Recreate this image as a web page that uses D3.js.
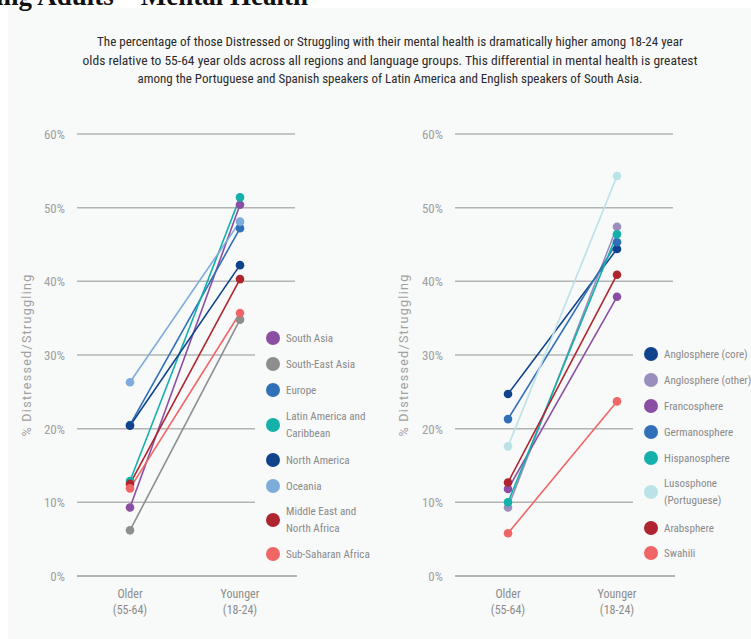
<!DOCTYPE html>
<html>
<head>
<meta charset="utf-8">
<script src="https://cdn.jsdelivr.net/npm/d3@7"></script>
<style>
  html, body { margin: 0; padding: 0; background: #ffffff; }
  svg { display: block; }
  .cond { font-family: "Roboto Condensed", "Liberation Sans Narrow", "DejaVu Sans Condensed", Roboto, sans-serif; }
</style>
</head>
<body>
<svg id="chart" width="751" height="639"></svg>
<script>
// Age groups on the x axis
const ageGroups = ["Older", "Younger"];
const ageLabels = [["Older", "(55-64)"], ["Younger", "(18-24)"]];
const yTicks = [0, 10, 20, 30, 40, 50, 60];

// Regions: share Distressed/Struggling (%) for older and younger adults
const regionNames = ["South Asia", "South-East Asia", "Europe", "Latin America and Caribbean",
  "North America", "Oceania", "Middle East and North Africa", "Sub-Saharan Africa"];
const regionLegend = [["South Asia"], ["South-East Asia"], ["Europe"], ["Latin America and", "Caribbean"],
  ["North America"], ["Oceania"], ["Middle East and", "North Africa"], ["Sub-Saharan Africa"]];
const regionOlder = [9.3, 6.2, 20.5, 12.9, 20.4, 26.3, 12.5, 11.9];
const regionYounger = [50.4, 34.8, 47.2, 51.4, 42.2, 48.1, 40.3, 35.7];
const regionColors = ["#8a4fa3", "#8e8e90", "#3070b8", "#14b0aa", "#10438c", "#7eacdb", "#ae252f", "#f06565"];

// Language groups
const languageNames = ["Anglosphere (core)", "Anglosphere (other)", "Francosphere", "Germanosphere",
  "Hispanosphere", "Lusosphone (Portuguese)", "Arabsphere", "Swahili"];
const languageLegend = [["Anglosphere (core)"], ["Anglosphere (other)"], ["Francosphere"], ["Germanosphere"],
  ["Hispanosphere"], ["Lusosphone", "(Portuguese)"], ["Arabsphere"], ["Swahili"]];
const languageOlder = [24.7, 9.3, 11.8, 21.3, 10.0, 17.6, 12.7, 5.8];
const languageYounger = [44.4, 47.4, 37.9, 45.3, 46.4, 54.3, 40.9, 23.7];
const languageColors = ["#10438c", "#9a8fbc", "#8a4fa3", "#3070b8", "#14b0aa", "#bae2e7", "#ae252f", "#f06565"];

const subtitleLines = [
  "The percentage of those Distressed or Struggling with their mental health is dramatically higher among 18-24 year",
  "olds relative to 55-64 year olds across all regions and language groups. This differential in mental health is greatest",
  "among the Portuguese and Spanish speakers of Latin America and English speakers of South Asia."
];

const svg = d3.select("#chart");

// light panel behind everything below the cropped heading
svg.append("rect").attr("x", 8).attr("y", 8).attr("width", 743).attr("height", 631).attr("fill", "#f8f9f9");

svg.append("text")
  .attr("x", 308).attr("y", 5)
  .attr("text-anchor", "end")
  .attr("font-family", "'Liberation Serif', 'Times New Roman', serif")
  .attr("font-weight", "bold")
  .attr("font-size", 27)
  .attr("fill", "#111")
  .text("Young Adults \u2013 Mental Health");

const subWidths = [586, 615, 505];
subtitleLines.forEach((t, i) => {
  svg.append("text")
    .attr("class", "cond")
    .attr("x", 390).attr("y", 46 + i * 18.5)
    .attr("text-anchor", "middle")
    .attr("font-size", 13)
    .attr("fill", "#2b2b2b")
    .attr("textLength", subWidths[i])
    .attr("lengthAdjust", "spacingAndGlyphs")
    .text(t);
});

const y = d3.scaleLinear().domain([0, 60]).range([576, 134]);

function panel(cfg) {
  const g = svg.append("g");
  const x = d3.scalePoint().domain(ageGroups).range([cfg.xOld, cfg.xYoung]);

  // gridlines; the middle ones stop short of the legend
  yTicks.forEach(t => {
    let x2 = cfg.gridRight;
    if (t === 0) x2 = cfg.gridRight + 2;
    else if (t >= 10 && t <= 30) x2 = cfg.gridShort;
    g.append("line")
      .attr("x1", cfg.gridLeft).attr("x2", x2)
      .attr("y1", y(t)).attr("y2", y(t))
      .attr("stroke", t === 0 ? "#9a9a9a" : "#b4b4b4")
      .attr("stroke-width", 1.5);
  });

  const axis = d3.axisLeft(y).tickValues(yTicks).tickFormat(d => d + "%").tickSize(0).tickPadding(0);
  const ax = g.append("g").attr("transform", `translate(${cfg.tickRight},0)`).call(axis);
  ax.select(".domain").remove();
  ax.selectAll("text")
    .attr("class", "cond")
    .attr("font-size", 13)
    .attr("fill", "#a0a0a0")
    .attr("dy", "0.35em");

  g.append("text")
    .attr("transform", `translate(${cfg.titleX},355) rotate(-90)`)
    .attr("text-anchor", "middle")
    .attr("font-family", "Roboto, sans-serif")
    .attr("font-size", 12.5)
    .attr("letter-spacing", 1.3)
    .attr("fill", "#a0a0a0")
    .text("% Distressed/Struggling");

  // x labels
  ageGroups.forEach((a, i) => {
    ageLabels[i].forEach((ln, j) => {
      g.append("text")
        .attr("class", "cond")
        .attr("x", x(a)).attr("y", 598 + j * 16)
        .attr("text-anchor", "middle")
        .attr("font-size", 12)
        .attr("fill", "#8c8c8c")
        .text(ln);
    });
  });

  // slopes
  cfg.names.forEach((n, i) => {
    const pts = [[x("Older"), y(cfg.older[i])], [x("Younger"), y(cfg.younger[i])]];
    g.append("path")
      .attr("d", d3.line()(pts))
      .attr("stroke", cfg.colors[i])
      .attr("stroke-width", 1.6)
      .attr("fill", "none");
  });
  cfg.names.forEach((n, i) => {
    g.append("circle").attr("cx", x("Older")).attr("cy", y(cfg.older[i])).attr("r", 4.3).attr("fill", cfg.colors[i]);
    g.append("circle").attr("cx", x("Younger")).attr("cy", y(cfg.younger[i])).attr("r", 4.3).attr("fill", cfg.colors[i]);
  });

  // legend
  cfg.legend.forEach((lines, i) => {
    const cy = cfg.legendY[i];
    g.append("circle").attr("cx", cfg.legendX).attr("cy", cy).attr("r", 7).attr("fill", cfg.colors[i]);
    const off = (lines.length - 1) * 8.5;
    lines.forEach((ln, j) => {
      g.append("text")
        .attr("class", "cond")
        .attr("x", cfg.legendX + 13)
        .attr("y", cy - off + j * 17)
        .attr("dy", "0.35em")
        .attr("font-size", 11.1)
        .attr("fill", "#8a8a8a")
        .text(ln);
    });
  });
}

panel({
  xOld: 130, xYoung: 240, gridLeft: 77, gridRight: 295, gridShort: 255,
  tickRight: 65, titleX: 31, legendX: 273,
  legendY: [338, 364, 390, 425, 460, 486, 520, 554],
  names: regionNames, legend: regionLegend, older: regionOlder, younger: regionYounger, colors: regionColors
});

panel({
  xOld: 508, xYoung: 617, gridLeft: 455, gridRight: 673, gridShort: 633,
  tickRight: 443, titleX: 408, legendX: 651,
  legendY: [354, 380, 406, 432, 458, 492, 528, 553],
  names: languageNames, legend: languageLegend, older: languageOlder, younger: languageYounger, colors: languageColors
});
</script>
</body>
</html>
